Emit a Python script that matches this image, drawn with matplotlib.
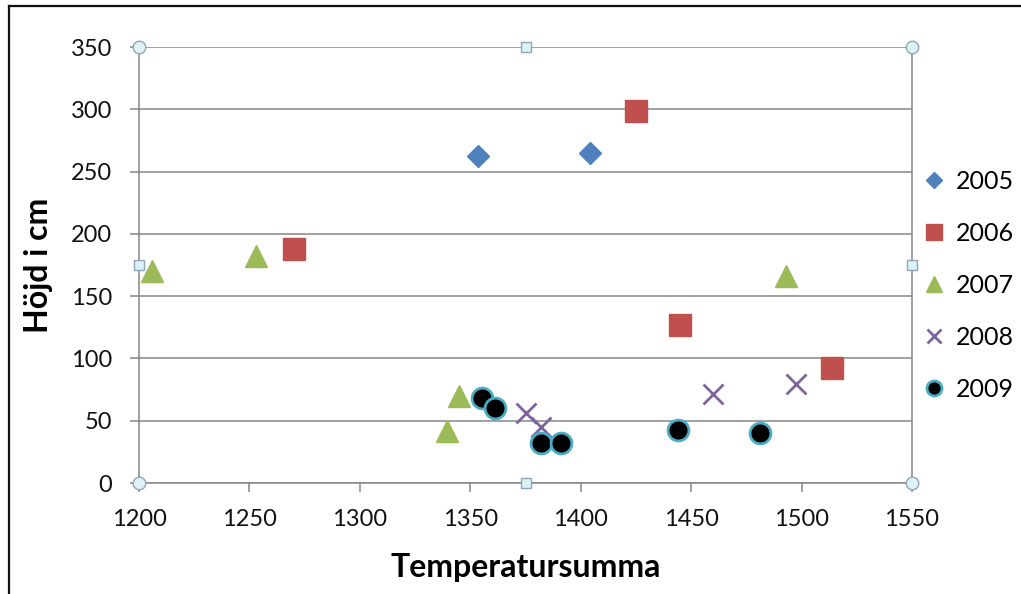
import matplotlib
matplotlib.use("Agg")
import matplotlib.pyplot as plt
from matplotlib.lines import Line2D

plt.rcParams['font.family'] = ['Lato', 'DejaVu Sans']

# ---- data ----
x2005 = [1353.5, 1404]
y2005 = [262.5, 265]
x2006 = [1270, 1425, 1445, 1514]
y2006 = [188, 298.5, 127, 92.5]
x2007 = [1206, 1253, 1339.5, 1345, 1493]
y2007 = [170, 182, 41.5, 69.5, 166]
x2008 = [1375, 1382, 1460, 1497.5]
y2008 = [56, 45, 71.5, 79.5]
x2009 = [1355.5, 1361, 1382, 1391, 1444, 1481]
y2009 = [68.5, 60.5, 32, 32.5, 42.5, 40]

xticks = [1200, 1250, 1300, 1350, 1400, 1450, 1500, 1550]
yticks = [0, 50, 100, 150, 200, 250, 300, 350]

W, H = 1021, 594
fig = plt.figure(figsize=(W / 100, H / 100), dpi=100)
ax = fig.add_axes([139 / W, 1 - 483 / H, (912 - 139) / W, (483 - 47) / H])

grid_c = '#868686'
ax.set_xlim(1200, 1550)
ax.set_ylim(0, 350)
ax.set_xticks(xticks)
ax.set_yticks(yticks)
ax.yaxis.grid(True, color=grid_c, lw=1.1)
ax.set_axisbelow(True)
for s in ['left', 'bottom', 'right']:
    ax.spines[s].set_color(grid_c)
    ax.spines[s].set_linewidth(1.1)
ax.spines['top'].set_visible(False)
ax.tick_params(axis='both', colors=grid_c, labelcolor='#111111', labelsize=17,
               length=6.5, width=1.1, direction='out')
ax.tick_params(axis='y', pad=13)
ax.tick_params(axis='x', pad=12)

ms_big = 16
ax.plot(x2005, y2005, ls='none', marker='D', ms=11.5, color='#4F81BD', label='2005', clip_on=False)
ax.plot(x2006, y2006, ls='none', marker='s', ms=ms_big, color='#C0504D', label='2006', clip_on=False)
ax.plot(x2007, y2007, ls='none', marker='^', ms=ms_big, color='#9BBB59', label='2007', clip_on=False)
ax.plot(x2008, y2008, ls='none', marker='x', ms=14, mew=2, color='#8064A2', label='2008', clip_on=False)
ax.plot(x2009, y2009, ls='none', marker='o', ms=15, mfc='black', mec='#4BACC6', mew=2,
        label='2009', clip_on=False)

ax.set_xlabel('Temperatursumma', fontsize=23, fontweight='bold', color='black')
ax.set_ylabel('Höjd i cm', fontsize=23, fontweight='bold', color='black')
ax.xaxis.set_label_coords(0.5, -(568 - 483) / (483 - 47))
ax.yaxis.set_label_coords(-(139 - 38) / (912 - 139), 0.5)
ax.xaxis.label.set_va('center')
ax.yaxis.label.set_va('center')

leg = ax.legend(loc='upper left', bbox_to_anchor=(922 / W, 1 - 170 / H),
                bbox_transform=fig.transFigure, frameon=False, fontsize=18,
                markerscale=0.72, handlelength=0.95, handletextpad=0.4,
                labelspacing=1.16, borderpad=0, borderaxespad=0)

# selection handles (Excel chart selection)
hx = [0, 0.5, 1, 0, 1, 0, 0.5, 1]
hy = [1, 1, 1, 0.5, 0.5, 0, 0, 0]
for xx, yy in zip(hx, hy):
    corner = xx != 0.5 and yy != 0.5
    ax.plot([xx], [yy], transform=ax.transAxes, marker='o' if corner else 's',
            ms=9 if corner else 6.5, mfc='#DDF2F7', mec='#8FA6B8', mew=1.0,
            clip_on=False, zorder=5)

# outer frame (left and top edges visible)
fig.add_artist(Line2D([9 / W, 9 / W], [0, 1 - 6 / H], transform=fig.transFigure,
                      color='#111111', lw=1.6))
fig.add_artist(Line2D([9 / W, 1], [1 - 6 / H, 1 - 6 / H], transform=fig.transFigure,
                      color='#111111', lw=1.6))

fig.savefig('out.png', dpi=100, facecolor='white')
